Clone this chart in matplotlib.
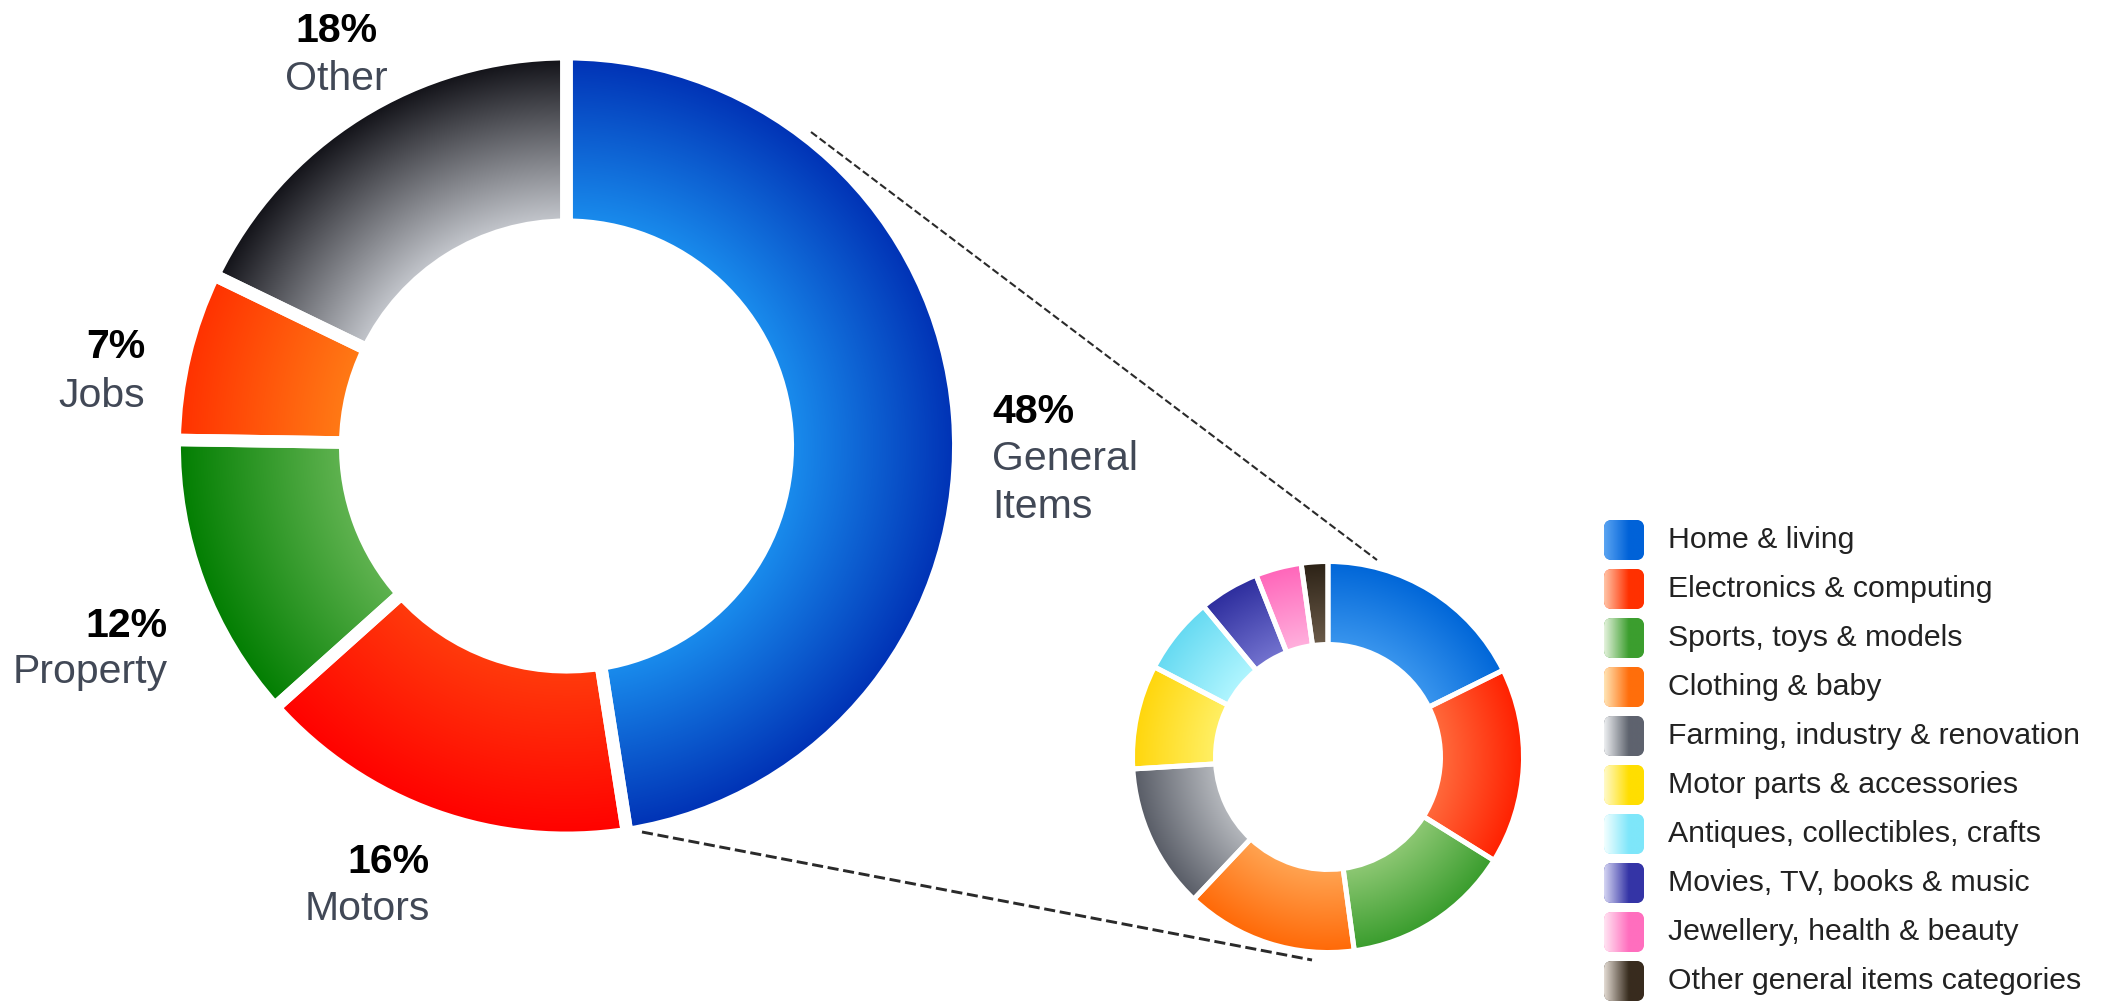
import numpy as np
import matplotlib
matplotlib.use('Agg')
import matplotlib.pyplot as plt
from matplotlib.patches import FancyBboxPatch
from matplotlib.colors import to_rgb

W, H = 2109, 1002

# ---------------- data ----------------
main_pcts = ['48%', '16%', '12%', '7%', '18%']
main_names = ['General\nItems', 'Motors', 'Property', 'Jobs', 'Other']
main_values = [48, 16, 12, 7, 18]
main_inner = ['#1a8eee', '#ff3c0c', '#62b452', '#ff7c16', '#c8cbd1']
main_outer = ['#0030b4', '#ff0000', '#007d00', '#ff3000', '#0e0e14']

sub_labels = ['Home & living', 'Electronics & computing', 'Sports, toys & models',
              'Clothing & baby', 'Farming, industry & renovation',
              'Motor parts & accessories', 'Antiques, collectibles, crafts',
              'Movies, TV, books & music', 'Jewellery, health & beauty',
              'Other general items categories']
sub_values = [17.7, 16.2, 14.0, 14.2, 12.0, 8.6, 6.4, 5.0, 3.8, 2.2]
sub_inner = ['#3a96ee', '#ff6a3c', '#8ec874', '#ffa452', '#b6b9be',
             '#fff066', '#b2f6ff', '#7474d0', '#ffb2de', '#6c5c4a']
sub_outer = ['#0066d8', '#ff2000', '#389c2c', '#ff6806', '#585c66',
             '#ffd60c', '#66daf2', '#2e2e9e', '#ff66ba', '#2c2216']
leg_light = ['#5aa4f2', '#ffc4a6', '#e4f2dc', '#ffe4b4', '#eceef0',
             '#fffac8', '#f2ffff', '#d4d4f2', '#ffe4f2', '#e2dad2']
leg_dark = ['#0062d8', '#ff3000', '#3c9e2e', '#ff6e0c', '#5e636e',
            '#ffde00', '#7ee6fa', '#3434a6', '#ff6ebe', '#382c1e']

# ---------------- layout (pixels, y down) ----------------
def Y(p):
    return H - p

big_c = (566.5, Y(446)); big_rout = 391.8; big_rin = 221.3; big_lw = 9.0
sml_c = (1328, Y(757)); sml_rout = 195.5; sml_rin = 112.5; sml_lw = 3.6

plt.rcParams['font.family'] = ['Liberation Sans', 'DejaVu Sans']
fig = plt.figure(figsize=(W / 100, H / 100), dpi=100)
ax = fig.add_axes([0, 0, 1, 1])


def gradient_donut(values, center, r_out, r_in, lw, inner, outer):
    wedges, _ = ax.pie(values, colors=outer, startangle=90, counterclock=False,
                       radius=r_out, center=center,
                       wedgeprops=dict(width=r_out - r_in, edgecolor='white',
                                       linewidth=lw))
    cx, cy = center
    n = int(2 * r_out) + 2
    xs = np.linspace(cx - r_out, cx + r_out, n)
    ys = np.linspace(cy - r_out, cy + r_out, n)
    X, Yg = np.meshgrid(xs, ys)
    rr = np.hypot(X - cx, Yg - cy)
    t = np.clip((rr - r_in) / (r_out - r_in), 0, 1)[..., None]
    for w, ci, co in zip(wedges, inner, outer):
        ci = np.array(to_rgb(ci)); co = np.array(to_rgb(co))
        img = ci + (co - ci) * t
        im = ax.imshow(img, extent=(xs[0], xs[-1], ys[0], ys[-1]), origin='lower',
                       interpolation='bilinear', zorder=2)
        im.set_clip_path(w)
        w.set_facecolor('none')
        w.set_zorder(3)
    return wedges


gradient_donut(main_values, big_c, big_rout, big_rin, big_lw, main_inner, main_outer)
gradient_donut(sub_values, sml_c, sml_rout, sml_rin, sml_lw, sub_inner, sub_outer)

# ---------------- labels of the big donut ----------------
fs = 29.5
name_col = '#414856'
# (x, ha, pct baseline, name baseline) per slice, in pixel coords
label_pos = [(992, 'left', 423, 470), (430, 'right', 873, 920),
             (168, 'right', 637, 683), (145, 'right', 358, 407),
             (336, 'center', 42, 90)]
for pct, name, (x, ha, yp, yn) in zip(main_pcts, main_names, label_pos):
    ax.text(x, Y(yp), pct, ha=ha, va='baseline', fontsize=fs,
            fontweight='bold', color='black', zorder=5)
    for k, line in enumerate(name.split('\n')):
        ax.text(x, Y(yn + 48 * k), line, ha=ha, va='baseline', fontsize=fs,
                color=name_col, zorder=5)

# ---------------- connecting dashed lines ----------------
ax.plot([811, 1377], [Y(132), Y(560)], color='#2a2a2a', lw=1.5,
        ls=(0, (3.6, 1.6)), zorder=4)
ax.plot([642, 1312], [Y(832), Y(960)], color='#2a2a2a', lw=2.1,
        ls=(0, (3.8, 1.6)), zorder=4)

# ---------------- legend ----------------
box_x, box_w, box_h = 1604, 40, 40
row0, row_step = 540, 49
gx = np.linspace(0, 1, 64)[None, :, None]
for i, (lab, cl, cd) in enumerate(zip(sub_labels, leg_light, leg_dark)):
    yc = row0 + row_step * i
    x0, y0 = box_x, Y(yc + box_h / 2)
    patch = FancyBboxPatch((x0, y0), box_w, box_h,
                           boxstyle='round,pad=0,rounding_size=8',
                           facecolor=cd, edgecolor='none', zorder=3)
    ax.add_patch(patch)
    a = np.array(to_rgb(cl)); b = np.array(to_rgb(cd))
    img = np.repeat(a + (b - a) * np.clip(gx * 1.6, 0, 1), 4, axis=0)
    im = ax.imshow(img, extent=(x0, x0 + box_w, y0, y0 + box_h), origin='lower',
                   interpolation='bilinear', zorder=4)
    im.set_clip_path(patch)
    ax.text(1668, Y(yc), lab, ha='left', va='center', fontsize=21.8,
            color='#222222', zorder=5)

ax.set_xlim(0, W)
ax.set_ylim(0, H)
ax.set_aspect('auto')
ax.axis('off')
fig.savefig('out.png', dpi=100, facecolor='white')
